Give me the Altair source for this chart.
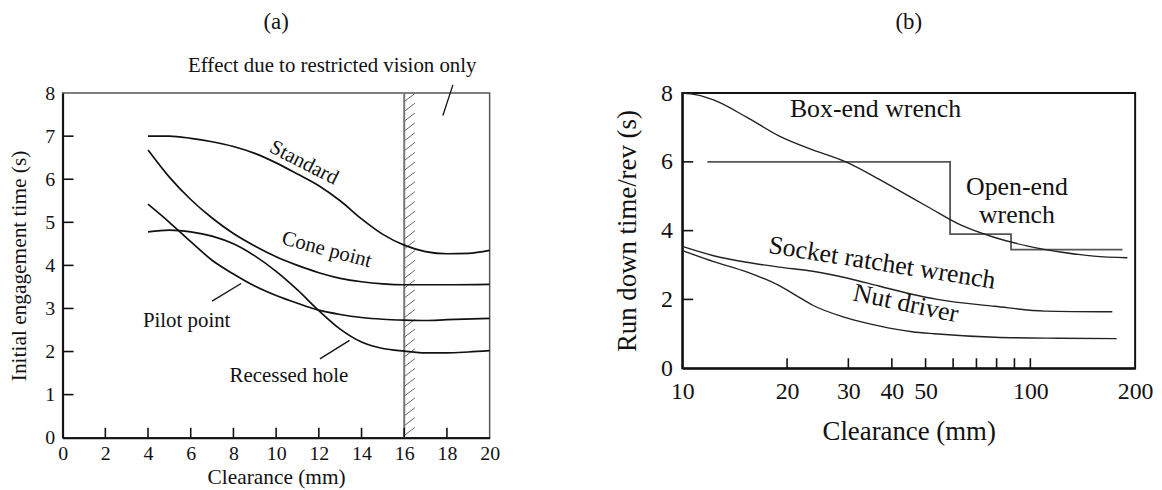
import altair as alt
import pandas as pd

FONT = "Liberation Serif"
INK = "#111111"

# ---------------- Panel (a) data ----------------
a_std_x = [4, 5, 6, 7, 8, 9, 10, 11, 12, 13, 14, 15, 16, 17, 18, 19, 20]
a_std_y = [7.0, 7.0, 6.95, 6.87, 6.76, 6.6, 6.38, 6.12, 5.85, 5.5, 5.08, 4.72, 4.47, 4.32, 4.27, 4.28, 4.35]
a_cone_x = [4, 5, 6, 7, 8, 9, 10, 11, 12, 13, 14, 15, 16, 18, 20]
a_cone_y = [6.68, 6.05, 5.53, 5.1, 4.74, 4.45, 4.2, 4.0, 3.83, 3.7, 3.62, 3.57, 3.55, 3.55, 3.56]
a_pilot_x = [4, 5, 6, 7, 8, 9, 10, 11, 12, 13, 14, 15, 16, 17, 18, 20]
a_pilot_y = [5.42, 5.0, 4.55, 4.12, 3.8, 3.52, 3.3, 3.12, 2.96, 2.86, 2.79, 2.75, 2.73, 2.72, 2.74, 2.77]
a_rec_x = [4, 5, 6, 7, 8, 9, 10, 11, 12, 13, 14, 15, 16, 17, 18, 19, 20]
a_rec_y = [4.78, 4.82, 4.78, 4.68, 4.5, 4.22, 3.86, 3.43, 2.95, 2.52, 2.22, 2.07, 2.01, 1.97, 1.97, 1.99, 2.02]

a_xticks = [0, 2, 4, 6, 8, 10, 12, 14, 16, 18, 20]
a_yticks = [0, 1, 2, 3, 4, 5, 6, 7, 8]
a_inner_xticks = [2, 4, 6, 8, 10, 12, 14, 16, 18]
a_inner_yticks = [1, 2, 3, 4, 5, 6, 7]
a_limit_x = 16

a_labels = ["Standard", "Cone point", "Pilot point", "Recessed hole", "Effect due to restricted vision only"]
a_label_x = [11.3, 12.37, 5.81, 10.6, 12.63]
a_label_y = [6.38, 4.36, 2.71, 1.44, 8.62]
a_label_angle = [27, 15, 0, 0, 0]

# leader lines (x, y, x2, y2) in data units
a_lead_x = [7.0, 12.05, 18.28]
a_lead_y = [3.17, 1.83, 8.19]
a_lead_x2 = [8.36, 13.44, 17.81]
a_lead_y2 = [3.58, 2.26, 7.48]

# ---------------- Panel (b) data ----------------
b_box_x = [10, 11, 12.3, 15.3, 19, 23.7, 29.5, 36.7, 45.7, 51, 63.5, 79, 98.4, 122, 152, 190]
b_box_y = [8.0, 7.95, 7.8, 7.3, 6.75, 6.35, 6.0, 5.5, 4.95, 4.68, 4.15, 3.8, 3.55, 3.38, 3.26, 3.21]
b_sock_x = [10, 12.3, 15.3, 19, 23.7, 29.5, 36.7, 45.7, 54, 79, 110, 172]
b_sock_y = [3.54, 3.27, 3.08, 2.94, 2.82, 2.63, 2.39, 2.15, 2.0, 1.8, 1.66, 1.64]
b_nut_x = [10, 12.3, 15.3, 19, 21.2, 23.7, 29.5, 36.7, 45.7, 53, 79, 120, 177]
b_nut_y = [3.42, 3.1, 2.8, 2.4, 2.12, 1.83, 1.47, 1.23, 1.06, 1.0, 0.9, 0.87, 0.86]
b_open_x = [11.8, 58.8, 58.8, 88, 88, 184]
b_open_y = [6.0, 6.0, 3.9, 3.9, 3.45, 3.45]

b_xlabels = [10, 20, 30, 40, 50, 100, 200]
b_yticks = [0, 2, 4, 6, 8]
b_inner_xticks = [20, 30, 40, 50, 60, 70, 80, 90, 100]
b_inner_yticks = [2, 4, 6]

b_labels = ["Box-end wrench", "Open-end\nwrench", "Socket ratchet wrench", "Nut driver"]
b_label_x = [35.9, 91.5, 37.5, 43.9]
b_label_y = [7.53, 5.27, 3.06, 1.88]
b_label_angle = [0, 0, 9, 12]

# ---------------- Panel (a) ----------------
AW, AH = 430, 347

def series_df(name, xs, ys):
    return pd.DataFrame({"x": xs, "y": ys, "series": name})

a_df = pd.concat([
    series_df("Standard", a_std_x, a_std_y),
    series_df("Cone point", a_cone_x, a_cone_y),
    series_df("Pilot point", a_pilot_x, a_pilot_y),
    series_df("Recessed hole", a_rec_x, a_rec_y),
])

ax_x = alt.X("x:Q", scale=alt.Scale(domain=[0, 20], nice=False),
             axis=alt.Axis(values=a_xticks, title="Clearance (mm)", labelFontSize=20,
                           titleFontSize=21.5, labelPadding=6, titlePadding=3, format="d",
                           labelFlush=False))
ax_y = alt.Y("y:Q", scale=alt.Scale(domain=[0, 8], nice=False),
             axis=alt.Axis(values=a_yticks, title="Initial engagement time (s)", labelFontSize=20,
                           titleFontSize=21.5, labelPadding=8, titlePadding=14, format="d",
                           labelFlush=False))

a_lines = alt.Chart(a_df).mark_line(interpolate="monotone", color="#111", strokeWidth=1.7).encode(
    x=ax_x, y=ax_y, detail="series:N")

sx_a = alt.Scale(domain=[0, 20], nice=False)
sy_a = alt.Scale(domain=[0, 8], nice=False)

a_tick_x = alt.Chart(pd.DataFrame({"v": a_inner_xticks})).mark_rule(color="#111", strokeWidth=1.6).encode(
    x=alt.X("v:Q", scale=sx_a), y=alt.value(AH), y2=alt.value(AH - 10))
a_tick_y = alt.Chart(pd.DataFrame({"v": a_inner_yticks})).mark_rule(color="#111", strokeWidth=1.6).encode(
    y=alt.Y("v:Q", scale=sy_a), x=alt.value(0), x2=alt.value(11))

a_limit = alt.Chart(pd.DataFrame({"v": [a_limit_x]})).mark_rule(color="#777", strokeWidth=2).encode(
    x=alt.X("v:Q", scale=sx_a))

hatch_y = [0.05 + 0.228 * k for k in range(35)]
hatch_df = pd.DataFrame({"x": [a_limit_x] * len(hatch_y), "x2": [a_limit_x + 0.5] * len(hatch_y),
                         "y": hatch_y, "y2": [h + 0.19 for h in hatch_y]})
a_hatch = alt.Chart(hatch_df).mark_rule(color="#666", strokeWidth=1.0).encode(
    x=alt.X("x:Q", scale=sx_a), x2="x2:Q", y=alt.Y("y:Q", scale=sy_a), y2="y2:Q")

lead_a = pd.DataFrame({"x": a_lead_x, "y": a_lead_y, "x2": a_lead_x2, "y2": a_lead_y2})
a_leads = alt.Chart(lead_a).mark_rule(color="#111", strokeWidth=1.3).encode(
    x=alt.X("x:Q", scale=sx_a), x2="x2:Q", y=alt.Y("y:Q", scale=sy_a), y2="y2:Q")

lab_a = pd.DataFrame({"t": a_labels, "x": a_label_x, "y": a_label_y, "ang": a_label_angle})
a_texts = []
for i in range(len(a_labels)):
    sub = lab_a.iloc[[i]]
    a_texts.append(alt.Chart(sub).mark_text(font=FONT, fontSize=21, color=INK, angle=a_label_angle[i]).encode(
        x=alt.X("x:Q", scale=sx_a), y=alt.Y("y:Q", scale=sy_a), text="t:N"))

a_title = alt.Chart(pd.DataFrame({"t": ["(a)"]})).mark_text(font=FONT, fontSize=23, color=INK).encode(
    text="t:N", x=alt.value(AW / 2), y=alt.value(-72))

panel_a = alt.layer(a_limit, a_hatch, a_lines, a_tick_x, a_tick_y, a_leads, *a_texts, a_title).properties(
    width=AW, height=AH, view=alt.ViewBackground(stroke="#555", strokeWidth=1.5))

# ---------------- Panel (b) ----------------
BW, BH = 456, 277

b_df = pd.concat([
    series_df("Box-end wrench", b_box_x, b_box_y),
    series_df("Socket ratchet wrench", b_sock_x, b_sock_y),
    series_df("Nut driver", b_nut_x, b_nut_y),
])

sx_b = alt.Scale(type="log", domain=[10, 200], nice=False)
sy_b = alt.Scale(domain=[0, 8], nice=False)

bx = alt.X("x:Q", scale=sx_b,
           axis=alt.Axis(values=b_xlabels, title="Clearance (mm)", labelFontSize=24,
                         titleFontSize=27, labelPadding=12, titlePadding=15, format="d",
                         labelFlush=False))
by = alt.Y("y:Q", scale=sy_b,
           axis=alt.Axis(values=b_yticks, title="Run down time/rev (s)", labelFontSize=24,
                         titleFontSize=27, labelPadding=10, titlePadding=19, format="d",
                         labelFlush=False))

b_lines = alt.Chart(b_df).mark_line(interpolate="monotone", color="#222", strokeWidth=1.4).encode(
    x=bx, y=by, detail="series:N")

open_df = pd.DataFrame({"x": b_open_x, "y": b_open_y, "i": list(range(len(b_open_x)))})
b_open = alt.Chart(open_df).mark_line(color="#555", strokeWidth=1.8).encode(
    x=alt.X("x:Q", scale=sx_b), y=alt.Y("y:Q", scale=sy_b), order="i:Q")

b_tick_x = alt.Chart(pd.DataFrame({"v": b_inner_xticks})).mark_rule(color="#111", strokeWidth=1.6).encode(
    x=alt.X("v:Q", scale=sx_b), y=alt.value(BH), y2=alt.value(BH - 10))
b_tick_y = alt.Chart(pd.DataFrame({"v": b_inner_yticks})).mark_rule(color="#111", strokeWidth=1.6).encode(
    y=alt.Y("v:Q", scale=sy_b), x=alt.value(0), x2=alt.value(11))

lab_b = pd.DataFrame({"t": b_labels, "x": b_label_x, "y": b_label_y})
b_texts = []
for i in range(len(b_labels)):
    sub = lab_b.iloc[[i]]
    b_texts.append(alt.Chart(sub).mark_text(font=FONT, fontSize=26, color=INK, angle=b_label_angle[i],
                                            lineBreak="\n", lineHeight=28).encode(
        x=alt.X("x:Q", scale=sx_b), y=alt.Y("y:Q", scale=sy_b), text="t:N"))

b_title = alt.Chart(pd.DataFrame({"t": ["(b)"]})).mark_text(font=FONT, fontSize=23, color=INK).encode(
    text="t:N", x=alt.value(BW / 2), y=alt.value(-72))

panel_b = alt.layer(b_open, b_lines, b_tick_x, b_tick_y, *b_texts, b_title).properties(
    width=BW, height=BH, view=alt.ViewBackground(stroke="#111", strokeWidth=2))

chart = alt.hconcat(panel_a, panel_b, spacing=112).resolve_scale(x="independent", y="independent").properties(
    padding={"left": 0, "top": 0, "right": 0, "bottom": 0}, background="white"
).configure_axis(
    labelFont=FONT, titleFont=FONT, grid=False, ticks=False, domainColor="#111", domainWidth=2,
    labelColor=INK, titleColor=INK, titleFontWeight="normal"
)

chart.save("out.html", embed_options={"renderer": "svg", "actions": False})
